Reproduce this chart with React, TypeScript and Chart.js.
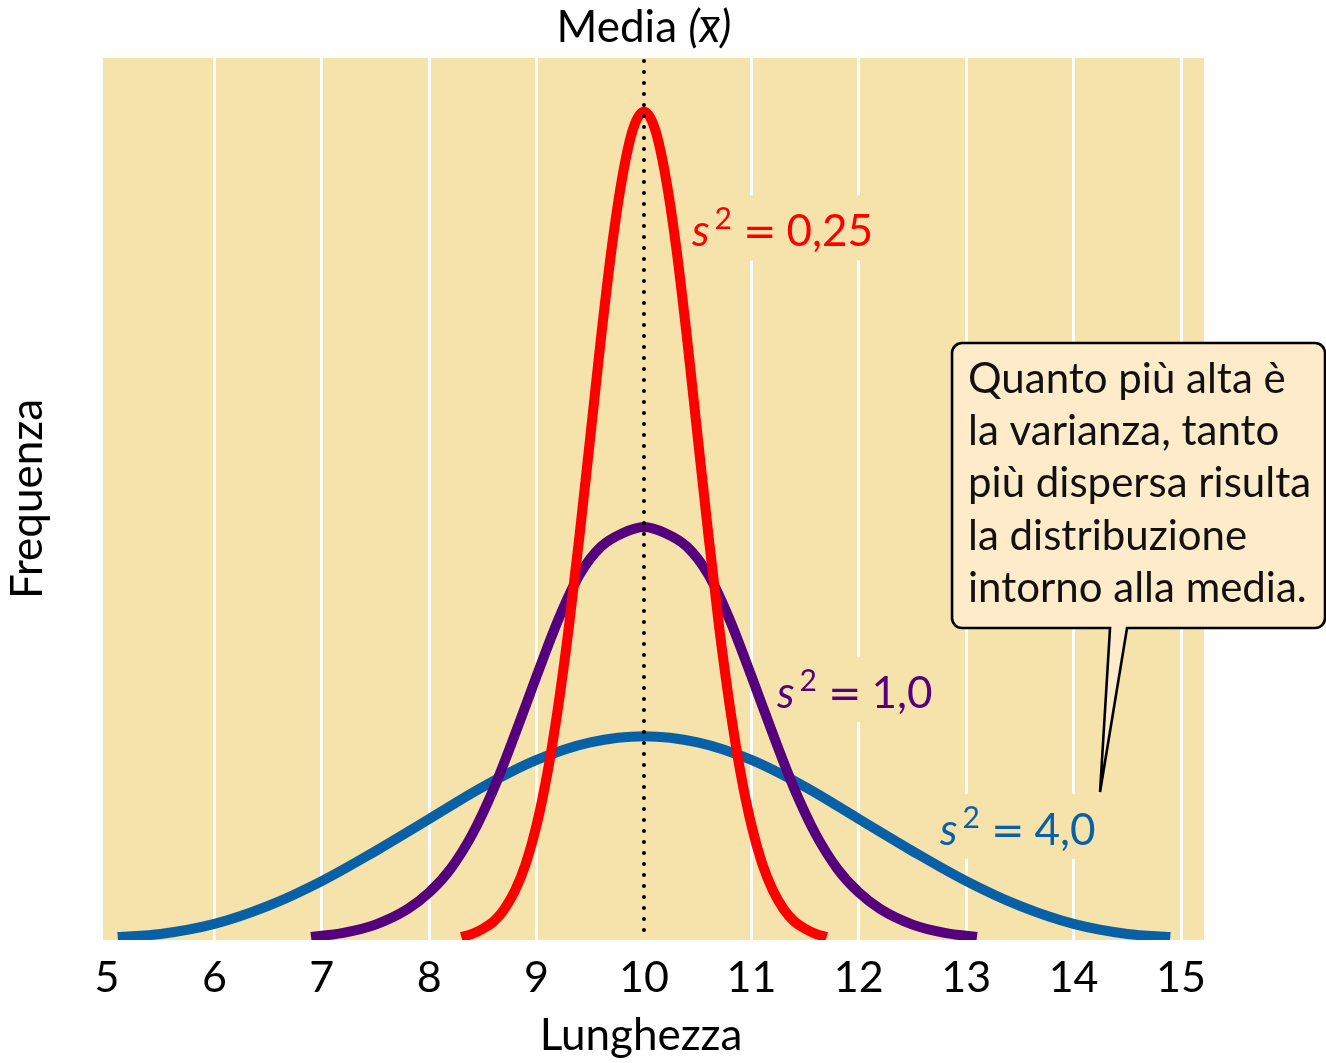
import React, { useEffect, useRef } from "react";
import { Chart, registerables } from "chart.js";

Chart.register(...registerables);

// ---------- data ----------
const xTickValues = [5, 6, 7, 8, 9, 10, 11, 12, 13, 14, 15];

// s^2 = 0,25
const redX = [8.3, 8.4, 8.5, 8.6, 8.7, 8.8, 8.9, 9.0, 9.1, 9.2, 9.3, 9.4, 9.5, 9.6, 9.7, 9.8, 9.9, 10.0,
  10.1, 10.2, 10.3, 10.4, 10.5, 10.6, 10.7, 10.8, 10.9, 11.0, 11.1, 11.2, 11.3, 11.4, 11.5, 11.6, 11.7];
const redY = [0, 0.003, 0.008, 0.015, 0.027, 0.045, 0.071, 0.108, 0.158, 0.222, 0.299, 0.388, 0.483, 0.579, 0.666, 0.735, 0.781, 0.797,
  0.781, 0.735, 0.666, 0.579, 0.483, 0.388, 0.299, 0.222, 0.158, 0.108, 0.071, 0.045, 0.027, 0.015, 0.008, 0.003, 0];

// s^2 = 1,0
const purpleX = [6.9, 7.2, 7.5, 7.8, 8.0, 8.2, 8.4, 8.6, 8.8, 9.0, 9.2, 9.4, 9.6, 9.8, 10.0,
  10.2, 10.4, 10.6, 10.8, 11.0, 11.2, 11.4, 11.6, 11.8, 12.0, 12.2, 12.5, 12.8, 13.1];
const purpleY = [0, 0.004, 0.012, 0.027, 0.043, 0.066, 0.099, 0.143, 0.196, 0.252, 0.306, 0.350, 0.377, 0.390, 0.396,
  0.390, 0.377, 0.350, 0.306, 0.252, 0.196, 0.143, 0.099, 0.066, 0.043, 0.027, 0.012, 0.004, 0];

// s^2 = 4,0
const blueX = [5.1, 5.5, 6.0, 6.5, 7.0, 7.5, 8.0, 8.5, 9.0, 9.5, 10.0, 10.5, 11.0, 11.5, 12.0, 12.5, 13.0, 13.5, 14.0, 14.5, 14.9];
const blueY = [0, 0.0029, 0.0126, 0.030, 0.054, 0.083, 0.114, 0.145, 0.171, 0.188, 0.194, 0.188, 0.171, 0.145, 0.114, 0.083, 0.054, 0.030, 0.0126, 0.0029, 0];

const meanValue = 10;
const seriesLabels = ["0,25", "1,0", "4,0"];
const labelAnchorsX = [10.447, 11.238, 12.756];
const labelAnchorsY = [0.667, 0.221, 0.089];
const calloutTipX = 14.246;
const calloutTipY = 0.14;
const calloutLines = [
  "Quanto più alta è",
  "la varianza, tanto",
  "più dispersa risulta",
  "la distribuzione",
  "intorno alla media.",
];
const xTitle = "Lunghezza";
const yTitle = "Frequenza";

// ---------- styles ----------
const FONT = "Lato";
const PLOT_BG = "#F6E3AB";
const CALLOUT_BG = "#FDEBC9";
const RED = "#FF0000";
const PURPLE = "#55007D";
const BLUE = "#0861A6";
const seriesColors = [RED, PURPLE, BLUE];
const LINE_W = 10;

function labelParts(ctx: CanvasRenderingContext2D, value: string) {
  ctx.save();
  ctx.font = `italic 44px ${FONT}`;
  const ws = ctx.measureText("s").width;
  ctx.font = `30px ${FONT}`;
  const w2 = ctx.measureText("2").width;
  ctx.font = `40px "DejaVu Sans"`;
  const we = ctx.measureText("=").width;
  ctx.font = `44px ${FONT}`;
  const wv = ctx.measureText(value).width;
  ctx.restore();
  const x2 = ws + 5;
  const xe = x2 + w2 + 11;
  const xv = xe + we + 10;
  return { x2, xe, xv, total: xv + wv };
}

function drawSLabel(ctx: CanvasRenderingContext2D, x: number, y: number, color: string, value: string) {
  const p = labelParts(ctx, value);
  ctx.save();
  ctx.fillStyle = color;
  ctx.textBaseline = "alphabetic";
  ctx.textAlign = "left";
  ctx.font = `italic 44px ${FONT}`;
  ctx.fillText("s", x, y);
  ctx.font = `30px ${FONT}`;
  ctx.fillText("2", x + p.x2, y - 17);
  ctx.font = `40px "DejaVu Sans"`;
  ctx.fillText("=", x + p.xe, y - 1);
  ctx.font = `44px ${FONT}`;
  ctx.fillText(value, x + p.xv, y);
  ctx.restore();
}

export default function App() {
  const ref = useRef<HTMLCanvasElement>(null);

  useEffect(() => {
    document.body.style.margin = "0";
    const canvas = ref.current;
    if (!canvas) return;

    const deco = {
      id: "deco",
      beforeDraw(chart: any) {
        const { ctx, chartArea: a } = chart;
        ctx.save();
        ctx.fillStyle = PLOT_BG;
        ctx.fillRect(a.left, a.top, a.right - a.left, a.bottom - a.top);
        ctx.restore();
      },
      beforeDatasetsDraw(chart: any) {
        const { ctx } = chart;
        const xs = chart.scales.x;
        const ys = chart.scales.y;
        ctx.save();
        ctx.fillStyle = PLOT_BG;
        for (let i = 0; i < seriesLabels.length; i++) {
          const px = xs.getPixelForValue(labelAnchorsX[i]);
          const py = ys.getPixelForValue(labelAnchorsY[i]);
          const w = labelParts(ctx, seriesLabels[i]).total;
          ctx.fillRect(px - 10, py - 51, w + 20, 65);
        }
        ctx.restore();
      },
      afterDatasetsDraw(chart: any) {
        const { ctx, chartArea: a } = chart;
        const xs = chart.scales.x;
        const ys = chart.scales.y;

        // mean dotted line
        const mx = xs.getPixelForValue(meanValue);
        ctx.save();
        ctx.strokeStyle = "#000";
        ctx.lineWidth = 4;
        ctx.lineCap = "round";
        ctx.setLineDash([0, 11]);
        ctx.beginPath();
        ctx.moveTo(mx, a.top + 3);
        ctx.lineTo(mx, a.bottom);
        ctx.stroke();
        ctx.restore();

        // series labels
        for (let i = 0; i < seriesLabels.length; i++) {
          const px = xs.getPixelForValue(labelAnchorsX[i]);
          const py = ys.getPixelForValue(labelAnchorsY[i]);
          drawSLabel(ctx, px, py, seriesColors[i], seriesLabels[i]);
        }

        // title "Media (x̄)"
        ctx.save();
        ctx.fillStyle = "#000";
        ctx.textBaseline = "alphabetic";
        ctx.textAlign = "left";
        const t1 = "Media ";
        ctx.font = `44px ${FONT}`;
        const w1 = ctx.measureText(t1).width;
        ctx.font = `italic 44px ${FONT}`;
        const wOpen = ctx.measureText("(").width;
        const wx = ctx.measureText("x").width;
        const wClose = ctx.measureText(")").width;
        const total = w1 + wOpen + wx + wClose;
        let tx = mx - total / 2;
        const ty = 42;
        ctx.font = `44px ${FONT}`;
        ctx.fillText(t1, tx, ty);
        tx += w1;
        ctx.font = `italic 44px ${FONT}`;
        ctx.fillText("(", tx, ty);
        tx += wOpen;
        ctx.fillText("x", tx, ty);
        ctx.fillRect(tx + 1, ty - 25, wx - 2, 2.4);
        tx += wx;
        ctx.fillText(")", tx, ty);
        ctx.restore();

        // x axis title, centred under the mean
        ctx.save();
        ctx.fillStyle = "#000";
        ctx.font = `44px ${FONT}`;
        ctx.textAlign = "center";
        ctx.textBaseline = "alphabetic";
        ctx.fillText(xTitle, mx - 3, 1050);
        ctx.restore();

        // callout
        const tipX = xs.getPixelForValue(calloutTipX);
        const tipY = ys.getPixelForValue(calloutTipY);
        const L = tipX - 148;
        const T = tipY - 449;
        const R = L + 373;
        const B = T + 285;
        const r = 10;
        const n1 = tipX + 10;
        const n2 = tipX + 27;
        ctx.save();
        ctx.beginPath();
        ctx.moveTo(L + r, T);
        ctx.lineTo(R - r, T);
        ctx.arcTo(R, T, R, T + r, r);
        ctx.lineTo(R, B - r);
        ctx.arcTo(R, B, R - r, B, r);
        ctx.lineTo(n2, B);
        ctx.lineTo(tipX, tipY);
        ctx.lineTo(n1, B);
        ctx.lineTo(L + r, B);
        ctx.arcTo(L, B, L, B - r, r);
        ctx.lineTo(L, T + r);
        ctx.arcTo(L, T, L + r, T, r);
        ctx.closePath();
        ctx.fillStyle = CALLOUT_BG;
        ctx.fill();
        ctx.strokeStyle = "#000";
        ctx.lineWidth = 2.6;
        ctx.lineJoin = "miter";
        ctx.stroke();
        ctx.fillStyle = "#111";
        ctx.font = `42px ${FONT}`;
        ctx.textBaseline = "alphabetic";
        ctx.textAlign = "left";
        calloutLines.forEach((line, i) => {
          ctx.fillText(line, L + 16, T + 50 + i * 52.2);
        });
        ctx.restore();
      },
    };

    const mk = (xs: number[], ys: number[], color: string) => ({
      data: xs.map((x, i) => ({ x, y: ys[i] })),
      borderColor: color,
      borderWidth: LINE_W,
      pointRadius: 0,
      cubicInterpolationMode: "monotone",
      clip: 0,
    });

    const chart = new Chart(canvas, {
      type: "line",
      data: {
        datasets: [
          mk(redX, redY, RED),
          mk(purpleX, purpleY, PURPLE),
          mk(blueX, blueY, BLUE),
        ],
      },
      options: {
        responsive: false,
        animation: false,
        devicePixelRatio: 1,
        layout: { padding: { left: 0, right: 122, top: 58, bottom: 0 } },
        plugins: { legend: { display: false }, tooltip: { enabled: false } },
        scales: {
          x: {
            type: "linear",
            min: 4.963,
            max: 15.214,
            afterFit: (s: any) => { s.height = 123; },
            afterBuildTicks: (s: any) => { s.ticks = xTickValues.map((v) => ({ value: v })); },
            grid: {
              drawTicks: false,
              lineWidth: 3,
              color: (c: any) => (c.tick && (c.tick.value === 5 || c.tick.value === meanValue) ? "rgba(0,0,0,0)" : "#FFFFFF"),
            },
            border: { display: false },
            ticks: {
              padding: 12,
              color: "#000",
              font: { family: FONT, size: 43 },
              maxRotation: 0,
              autoSkip: false,
              callback: (v: any) => String(v),
            },
            title: { display: false, text: xTitle },
          },
          y: {
            type: "linear",
            min: -0.0029,
            max: 0.849,
            afterFit: (s: any) => { s.width = 103; },
            grid: { display: false },
            border: { display: false },
            ticks: { display: false },
            title: {
              display: true,
              text: yTitle,
              color: "#000",
              font: { family: FONT, size: 44 },
              padding: { top: 1, bottom: 0 },
            },
          },
        },
      },
      plugins: [deco],
    } as any);

    return () => chart.destroy();
  }, []);

  return (
    <div style={{ position: "absolute", left: 0, top: 0 }}>
      <canvas ref={ref} width={1326} height={1063} style={{ display: "block", width: 1326, height: 1063 }} />
    </div>
  );
}
